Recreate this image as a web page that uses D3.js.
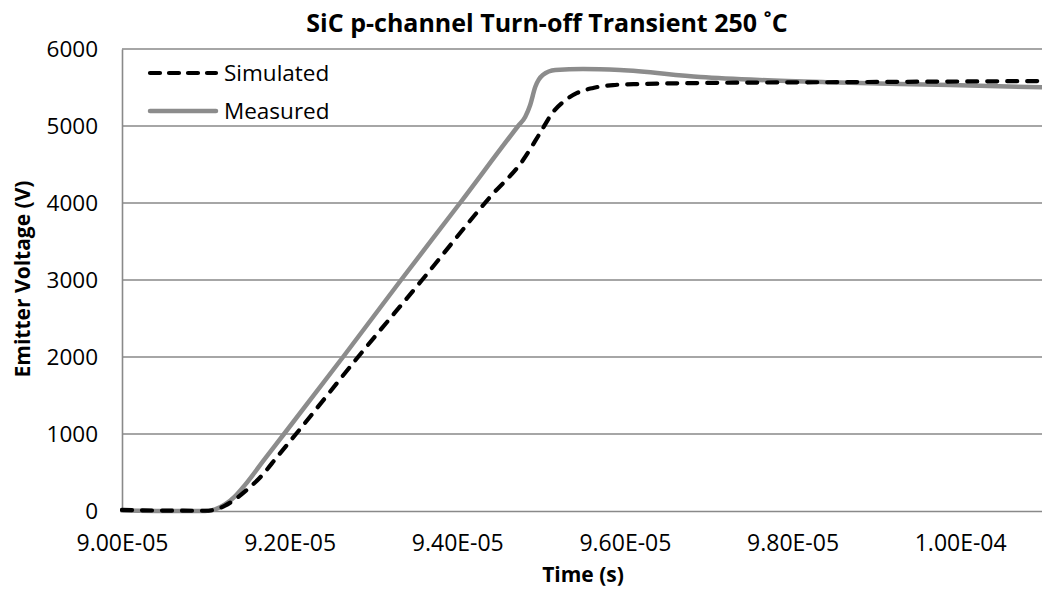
<!DOCTYPE html>
<html>
<head>
<meta charset="utf-8">
<script src="https://cdn.jsdelivr.net/npm/d3@7"></script>
<style>
  html, body { margin: 0; padding: 0; background: #fff; }
  svg { display: block; }
  text { font-family: "Open Sans", sans-serif; fill: #000; }
</style>
</head>
<body>
<svg id="chart" width="1042" height="592"></svg>
<script>
// ---- Data (time in seconds, voltage in volts) ----
const measuredTime = [9.000e-5, 9.050e-5, 9.099e-5, 9.111e-5, 9.1229e-5, 9.1348e-5, 9.1468e-5, 9.1706e-5, 9.1933e-5,
  9.2637e-5, 9.3329e-5, 9.4033e-5, 9.4726e-5, 9.481e-5, 9.487e-5, 9.493e-5, 9.502e-5, 9.517e-5,
  9.550e-5, 9.594e-5, 9.690e-5, 9.761e-5, 9.845e-5, 9.988e-5, 1.0098e-4];
const measuredVolt = [5, 0, 0, 21, 85, 191, 340, 680, 1000,
  2000, 3000, 4000, 5000, 5117, 5273, 5506, 5662, 5727,
  5740, 5727, 5636, 5597, 5567, 5532, 5502];

const simulatedTime = [9.000e-5, 9.050e-5, 9.099e-5, 9.111e-5, 9.1229e-5, 9.1348e-5, 9.1468e-5, 9.1647e-5, 9.1862e-5, 9.2076e-5,
  9.2816e-5, 9.358e-5, 9.4391e-5, 9.4785e-5, 9.4988e-5, 9.5143e-5, 9.5263e-5, 9.543e-5, 9.562e-5,
  9.5859e-5, 9.6181e-5, 9.6897e-5, 9.8687e-5, 1.0098e-4];
const simulatedVolt = [15, 5, 3, 18, 70, 150, 255, 435, 718, 1000,
  2000, 3000, 4078, 4558, 4909, 5182, 5312, 5429, 5494,
  5532, 5545, 5558, 5570, 5584];

const xTicks = [9.0e-5, 9.2e-5, 9.4e-5, 9.6e-5, 9.8e-5, 1.0e-4];
const xTickLabels = ["9.00E-05", "9.20E-05", "9.40E-05", "9.60E-05", "9.80E-05", "1.00E-04"];
const yTicks = [0, 1000, 2000, 3000, 4000, 5000, 6000];
const seriesNames = ["Simulated", "Measured"];

const titleText = "SiC p-channel Turn-off Transient 250 ˚C";
const xTitle = "Time (s)";
const yTitle = "Emitter Voltage (V)";

// ---- Layout ----
const svg = d3.select("#chart");
const plotL = 122, plotR = 1044, plotT = 49, plotB = 511;
const gridColor = "#898989";
const measColor = "#8c8c8c";

const x = d3.scaleLinear().domain([9.0e-5, 1.01e-4]).range([plotL, plotR]);
const y = d3.scaleLinear().domain([0, 6000]).range([plotB, plotT]);

// gridlines
svg.append("g")
  .selectAll("line")
  .data(yTicks.filter(d => d > 0))
  .join("line")
  .attr("x1", plotL).attr("x2", 1042)
  .attr("y1", d => y(d)).attr("y2", d => y(d))
  .attr("stroke", gridColor).attr("stroke-width", 1.6);

// y axis
const yAxis = d3.axisLeft(y).tickValues(yTicks).tickSize(0).tickPadding(24).tickFormat(d3.format("d"));
const gy = svg.append("g").attr("transform", `translate(${plotL},0)`).call(yAxis);
gy.select(".domain").attr("stroke", gridColor).attr("stroke-width", 1.6);
gy.selectAll("text").style("font-size", "22.5px").attr("font-family", "Open Sans").attr("fill", "#000");

// x axis
const xAxis = d3.axisBottom(x).tickValues(xTicks).tickSize(0).tickPadding(24)
  .tickFormat((d, i) => xTickLabels[i]);
const gx = svg.append("g").attr("transform", `translate(0,${plotB})`).call(xAxis);
gx.select(".domain").attr("stroke", gridColor).attr("stroke-width", 1.6);
gx.selectAll("text").style("font-size", "23px").attr("font-family", "Open Sans").attr("fill", "#000");

// clip
svg.append("clipPath").attr("id", "clip")
  .append("rect").attr("x", plotL - 2).attr("y", 0).attr("width", 1042 - plotL + 2).attr("height", 592);

const line = d3.line().x(d => x(d[0])).y(d => y(d[1])).curve(d3.curveMonotoneX);

const measured = measuredTime.map((t, i) => [t, measuredVolt[i]]);
const simulated = simulatedTime.map((t, i) => [t, simulatedVolt[i]]);

const plot = svg.append("g").attr("clip-path", "url(#clip)");
plot.append("path").datum(measured)
  .attr("d", line).attr("fill", "none")
  .attr("stroke", measColor).attr("stroke-width", 4.5)
  .attr("stroke-linejoin", "round").attr("stroke-linecap", "round");
plot.append("path").datum(simulated)
  .attr("d", line).attr("fill", "none")
  .attr("stroke", "#000").attr("stroke-width", 4.2)
  .attr("stroke-dasharray", "10,10").attr("stroke-linecap", "round");

// legend
const legend = svg.append("g");
const legendY = [73, 111];
legend.append("line").attr("x1", 150).attr("x2", 216).attr("y1", legendY[0]).attr("y2", legendY[0])
  .attr("stroke", "#000").attr("stroke-width", 4.2).attr("stroke-dasharray", "10,9").attr("stroke-linecap", "round");
legend.append("line").attr("x1", 150).attr("x2", 216).attr("y1", legendY[1]).attr("y2", legendY[1])
  .attr("stroke", measColor).attr("stroke-width", 4.5).attr("stroke-linecap", "round");
legend.selectAll("text").data(seriesNames).join("text")
  .attr("x", 224).attr("y", (d, i) => legendY[i]).attr("dy", "0.35em")
  .style("font-size", "22.5px").text(d => d);

// titles
svg.append("text").attr("x", 547).attr("y", 32).attr("text-anchor", "middle")
  .style("font-size", "25px").style("font-weight", "bold").text(titleText);
svg.append("text").attr("x", 583).attr("y", 582).attr("text-anchor", "middle")
  .style("font-size", "21px").style("font-weight", "bold").text(xTitle);
svg.append("text").attr("transform", "translate(30,279) rotate(-90)").attr("text-anchor", "middle")
  .style("font-size", "21px").style("font-weight", "bold").text(yTitle);
</script>
</body>
</html>
